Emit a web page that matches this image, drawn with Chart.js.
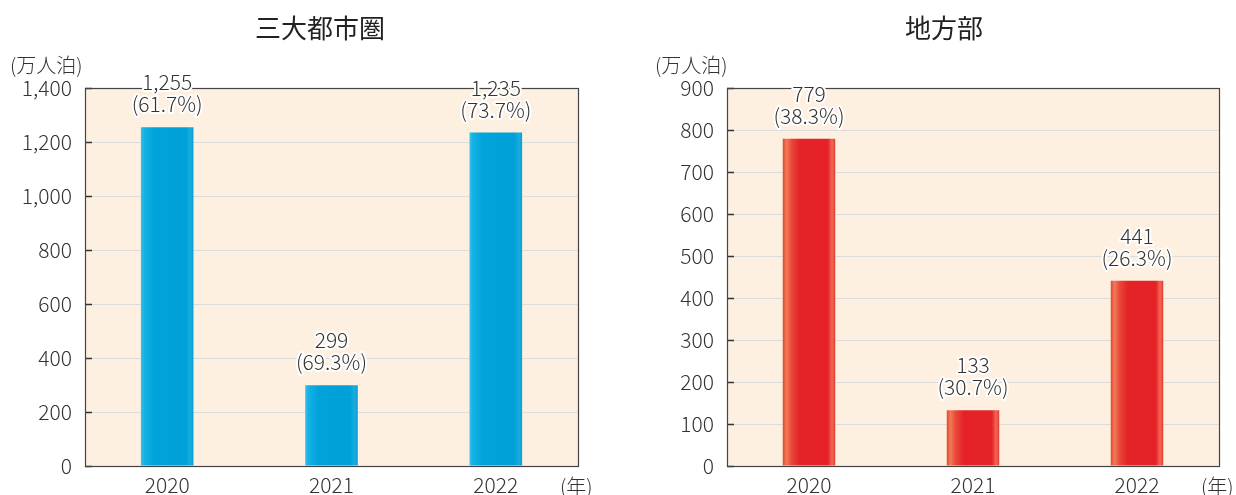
<!DOCTYPE html>
<html>
<head>
<meta charset="utf-8">
<script src="https://cdn.jsdelivr.net/npm/chart.js@4"></script>
<style>
  html, body { margin: 0; padding: 0; background: #fff; }
  .wrap { position: absolute; top: 0; width: 618px; height: 495px; }
  #w1 { left: 0; }
  #w2 { left: 618px; }
</style>
</head>
<body>
<div class="wrap" id="w1"><canvas id="c1"></canvas></div>
<div class="wrap" id="w2"><canvas id="c2"></canvas></div>
<script>
// Guest nights (万人泊) by year, with share of total in brackets.
const YEARS = ["2020", "2021", "2022"];
const METRO_VALUES = [1255, 299, 1235];
const METRO_SHARE = ["61.7%", "69.3%", "73.7%"];
const LOCAL_VALUES = [779, 133, 441];
const LOCAL_SHARE = ["38.3%", "30.7%", "26.3%"];

const FONT = "'Noto Sans CJK JP', 'Noto Sans', sans-serif";
const INK = "#333";

// Shiny vertical-stripe fill for each bar, built once the bar geometry is known.
function barGradient(c, x0, x1, stops) {
  const g = c.createLinearGradient(x0, 0, x1, 0);
  stops.forEach(([p, col]) => g.addColorStop(p, col));
  return g;
}

const BLUE_STOPS = [[0, "#3cc0ea"], [0.06, "#14b2e5"], [0.25, "#00a3da"], [0.85, "#00a0d8"], [0.94, "#18acdf"], [1, "#0a9fd6"]];
const RED_STOPS = [[0, "#e8452e"], [0.07, "#f07a58"], [0.17, "#e9473a"], [0.33, "#e42227"], [0.86, "#e52229"], [0.94, "#f06a55"], [1, "#e63a30"]];

const decor = {
  id: "decor",
  beforeDraw(chart, args, o) {
    const { ctx: c, chartArea: a } = chart;
    c.save();
    c.fillStyle = "#fdf0e0";
    c.fillRect(a.left, a.top, a.right - a.left, a.bottom - a.top);
    c.restore();
  },
  beforeDatasetsDraw(chart, args, o) {
    const meta = chart.getDatasetMeta(0);
    meta.data.forEach(bar => {
      const x0 = bar.x - bar.width / 2;
      bar.options.backgroundColor = barGradient(chart.ctx, x0, x0 + bar.width, o.stops);
    });
  },
  afterDraw(chart, args, o) {
    const { ctx: c, chartArea: a, scales } = chart;
    c.save();
    // inward ticks
    c.strokeStyle = "#333";
    c.lineWidth = 1.5;
    scales.y.ticks.forEach(t => {
      const y = Math.round(scales.y.getPixelForValue(t.value)) + 0.5;
      c.beginPath(); c.moveTo(a.left, y); c.lineTo(a.left + 7, y); c.stroke();
    });
    // frame
    c.strokeStyle = "#444";
    c.lineWidth = 1.2;
    c.strokeRect(a.left + 0.5, a.top + 0.5, a.right - a.left, a.bottom - a.top);

    // value labels
    c.font = "300 21px " + FONT;
    c.textAlign = "center";
    c.textBaseline = "middle";
    c.lineJoin = "round";
    const meta = chart.getDatasetMeta(0);
    meta.data.forEach((bar, i) => {
      const v = chart.data.datasets[0].data[i].toLocaleString("en-US");
      const lines = [[v, bar.y - 45], ["(" + o.share[i] + ")", bar.y - 23]];
      lines.forEach(([t, y]) => {
        c.strokeStyle = "#fff"; c.lineWidth = 4;
        c.strokeText(t, bar.x, y);
        c.fillStyle = INK;
        c.fillText(t, bar.x, y);
      });
    });

    // title, unit, year label
    c.fillStyle = "#222";
    c.font = "400 26px " + FONT;
    c.fillText(o.title, o.titleX, 28);
    c.font = "300 20px " + FONT;
    c.fillStyle = INK;
    c.textAlign = "left";
    c.fillText("(万人泊)", o.unitX, 65);
    c.fillText("(年)", a.right - 18, 486);
    c.restore();
  }
};

function makeChart(id, values, share, max, step, opts) {
  return new Chart(document.getElementById(id), {
    type: "bar",
    data: {
      labels: YEARS,
      datasets: [{
        data: values,
        // scriptable so every bar gets its own options object (own gradient)
        backgroundColor: () => opts.base,
        barPercentage: 0.64, categoryPercentage: 0.5,
      }],
    },
    options: {
      responsive: true,
      maintainAspectRatio: false,
      animation: false,
      events: [],
      layout: { padding: { top: 88, right: opts.padRight, bottom: 0, left: 0 } },
      plugins: {
        legend: { display: false },
        tooltip: { enabled: false },
        decor: { stops: opts.stops, share, title: opts.title, titleX: opts.titleX, unitX: opts.unitX },
      },
      scales: {
        x: {
          afterFit: s => { s.height = 29; },
          grid: { display: false, drawTicks: false },
          border: { display: false },
          ticks: { color: INK, font: { family: FONT, size: 21, weight: 300, lineHeight: 1 }, padding: 9 },
        },
        y: {
          min: 0, max,
          afterFit: s => { s.width = opts.axisW; },
          grid: { color: "#dcdcdc", drawTicks: false, lineWidth: 1 },
          border: { display: false },
          ticks: {
            stepSize: step, color: INK, padding: 13,
            font: { family: FONT, size: 21, weight: 300 },
            callback: v => v.toLocaleString("en-US"),
          },
        },
      },
    },
    plugins: [decor],
  });
}

makeChart("c1", METRO_VALUES, METRO_SHARE, 1400, 200,
  { base: "#00a0d8", stops: BLUE_STOPS, title: "三大都市圏", titleX: 320, unitX: 10, axisW: 85, padRight: 40 });
makeChart("c2", LOCAL_VALUES, LOCAL_SHARE, 900, 100,
  { base: "#e52229", stops: RED_STOPS, title: "地方部", titleX: 326, unitX: 37, axisW: 109, padRight: 17 });
</script>
</body>
</html>
